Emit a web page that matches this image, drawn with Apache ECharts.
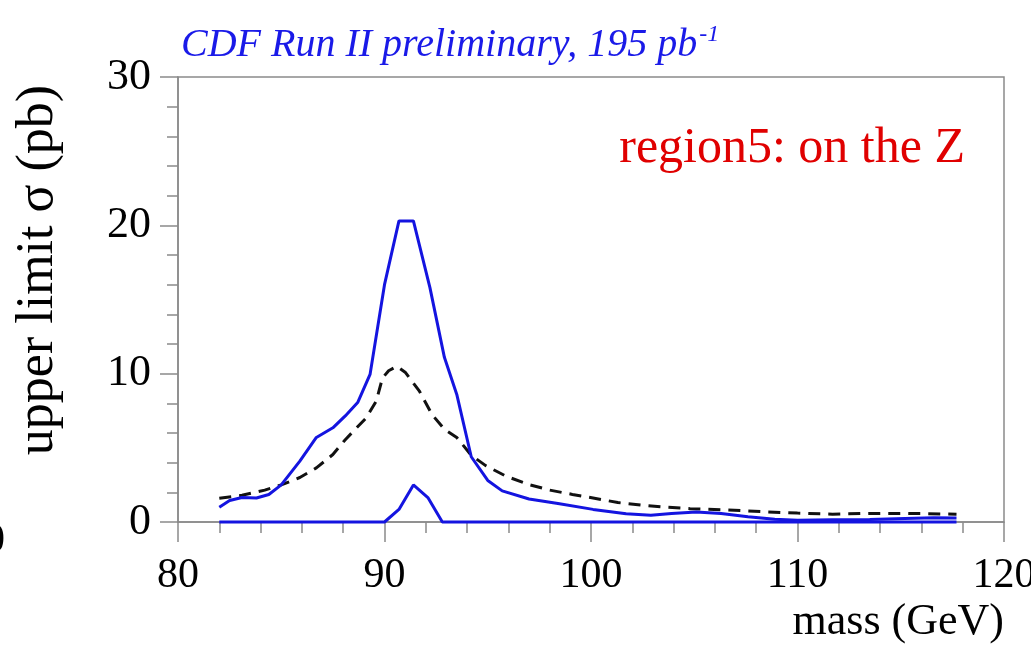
<!DOCTYPE html>
<html lang="en">
<head>
    <meta charset="UTF-8">
    <title>upper limit - region5</title>
    <script src="https://cdn.jsdelivr.net/npm/echarts@6/dist/echarts.min.js"></script>
    <style>
        html, body { margin: 0; padding: 0; background: #fff; }
        #main { width: 1031px; height: 650px; }
    </style>
</head>
<body>
    <div id="main"></div>
    <script>
        // observed limit (solid blue)
        var obsMass = [82.0, 82.5, 83.1, 83.8, 84.4, 85.0, 85.9, 86.7, 87.5, 88.1, 88.7, 89.3, 90.0, 90.7, 91.4, 92.2, 92.9, 93.5, 94.2, 95.0, 95.7, 97.0, 98.4, 100.1, 101.7, 102.9, 103.9, 105.1, 106.3, 107.6, 108.9, 110.0, 111.7, 113.5, 115.2, 116.6, 117.7];
        var obsVal = [1.0, 1.45, 1.65, 1.62, 1.85, 2.5, 4.1, 5.7, 6.35, 7.15, 8.05, 9.95, 16.0, 20.3, 20.3, 15.8, 11.1, 8.6, 4.4, 2.8, 2.1, 1.55, 1.25, 0.85, 0.55, 0.45, 0.58, 0.68, 0.58, 0.35, 0.18, 0.12, 0.15, 0.17, 0.24, 0.28, 0.27];

        // expected limit (dashed black)
        var expMass = [82.0, 83.1, 84.2, 85.0, 85.9, 86.7, 87.5, 88.1, 89.1, 89.6, 89.9, 90.2, 90.6, 91.0, 91.7, 92.3, 92.9, 93.5, 94.2, 94.9, 95.9, 97.0, 98.0, 99.1, 100.1, 101.3, 102.4, 103.4, 104.8, 106.5, 108.2, 110.0, 111.7, 113.5, 115.2, 117.7];
        var expVal = [1.6, 1.8, 2.15, 2.5, 3.0, 3.65, 4.55, 5.55, 7.0, 8.15, 9.7, 10.2, 10.5, 10.1, 8.8, 7.25, 6.25, 5.7, 4.5, 3.8, 3.08, 2.52, 2.15, 1.86, 1.62, 1.31, 1.14, 1.02, 0.9, 0.82, 0.7, 0.6, 0.53, 0.58, 0.58, 0.53];

        // lower curve (solid blue, mostly zero)
        var lowMass = [82.0, 90.0, 90.7, 91.4, 92.1, 92.8, 117.7];
        var lowVal = [0, 0, 0.85, 2.5, 1.65, 0, 0];

        var xTicks = [80, 90, 100, 110, 120];
        var yTicks = [0, 10, 20, 30];

        function pairs(xs, ys) {
            var out = [];
            for (var i = 0; i < xs.length; i++) {
                out.push([xs[i], ys[i]]);
            }
            return out;
        }

        var serif = '"Liberation Serif", "DejaVu Serif", serif';
        var axisGray = '#8a8a8a';
        var blue = '#1414e0';

        var myChart = echarts.init(document.getElementById('main'));

        var option = {
            animation: false,
            backgroundColor: '#fff',
            title: {
                text: '{t|CDF Run II preliminary, 195 pb}{s|-1}',
                left: 176,
                top: 18,
                textStyle: {
                    rich: {
                        t: { fontFamily: serif, fontStyle: 'italic', fontWeight: 'normal', fontSize: 40, color: '#1a1ae8' },
                        s: { fontFamily: serif, fontStyle: 'italic', fontWeight: 'normal', fontSize: 24, color: '#1a1ae8', verticalAlign: 'top', padding: [0, 0, 20, 2] }
                    }
                }
            },
            graphic: [{
                type: 'text',
                right: 66,
                top: 124,
                style: { text: 'region5: on the Z', font: '50px ' + serif, fill: '#e00000' }
            }, {
                type: 'text',
                x: 38,
                y: 270,
                rotation: Math.PI / 2,
                style: { text: 'upper limit σ (pb)', font: '52px ' + serif, fill: '#000', align: 'center', verticalAlign: 'middle' }
            }, {
                type: 'text',
                left: -16,
                top: 520,
                style: { text: '0', font: '42px ' + serif, fill: '#000' }
            }],
            grid: {
                left: 178,
                right: 27,
                top: 77,
                bottom: 128,
                outerBoundsMode: 'none',
                show: true,
                borderColor: axisGray,
                borderWidth: 1.5
            },
            xAxis: {
                type: 'value',
                min: 80,
                max: 120,
                interval: 10,
                name: 'mass (GeV)',
                nameLocation: 'end',
                nameGap: 0,
                nameTextStyle: {
                    fontFamily: serif,
                    fontSize: 44,
                    color: '#000',
                    align: 'right',
                    verticalAlign: 'top',
                    padding: [78, 0, 0, 0]
                },
                axisLine: { onZero: false, lineStyle: { color: axisGray, width: 1.5 } },
                axisTick: { length: 20, lineStyle: { color: axisGray, width: 1.5 } },
                minorTick: { show: true, splitNumber: 5, length: 11, lineStyle: { color: axisGray, width: 1.5 } },
                splitLine: { show: false },
                axisLabel: {
                    margin: 33,
                    fontFamily: serif,
                    fontSize: 42,
                    color: '#000',
                    customValues: xTicks
                }
            },
            yAxis: {
                type: 'value',
                min: 0,
                max: 30,
                interval: 10,
                axisLine: { show: true, lineStyle: { color: axisGray, width: 1.5 } },
                axisTick: { length: 18, lineStyle: { color: axisGray, width: 1.5 } },
                minorTick: { show: true, splitNumber: 5, length: 11, lineStyle: { color: axisGray, width: 1.5 } },
                splitLine: { show: false },
                axisLabel: {
                    margin: 27,
                    fontFamily: serif,
                    fontSize: 44,
                    color: '#000',
                    customValues: yTicks
                }
            },
            series: [{
                name: 'expected',
                type: 'line',
                data: pairs(expMass, expVal),
                showSymbol: false,
                clip: false,
                z: 3,
                lineStyle: { color: '#111', width: 3, type: [12, 8] }
            }, {
                name: 'observed',
                type: 'line',
                data: pairs(obsMass, obsVal),
                showSymbol: false,
                clip: false,
                z: 4,
                lineStyle: { color: blue, width: 3 }
            }, {
                name: 'lower',
                type: 'line',
                data: pairs(lowMass, lowVal),
                showSymbol: false,
                clip: false,
                z: 4,
                lineStyle: { color: blue, width: 3 }
            }]
        };

        myChart.setOption(option);
    </script>
</body>
</html>
